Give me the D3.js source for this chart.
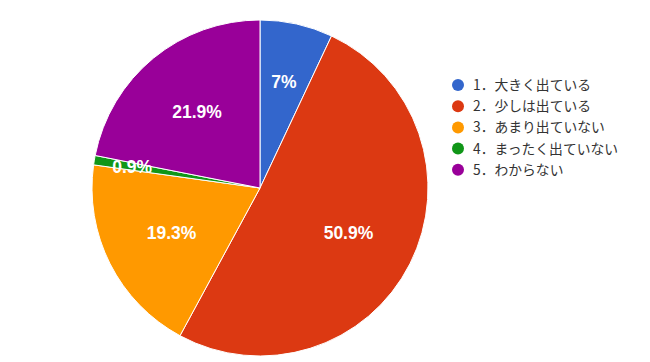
<!DOCTYPE html>
<html>
<head>
<meta charset="utf-8">
<script src="https://cdn.jsdelivr.net/npm/d3@7"></script>
<style>
  body { margin: 0; background: #fff; }
  text { font-family: Arial, "Liberation Sans", sans-serif; }
  .legend text { font-family: "Noto Sans CJK JP", sans-serif; }
</style>
</head>
<body>
<div id="chart"></div>
<script>
var categories = ["1．大きく出ている", "2．少しは出ている", "3．あまり出ていない", "4．まったく出ていない", "5．わからない"];
var values = [7, 50.9, 19.3, 0.9, 21.9];
var labels = ["7%", "50.9%", "19.3%", "0.9%", "21.9%"];
var colors = ["#3366cc", "#dc3912", "#ff9900", "#109618", "#990099"];

var width = 650, height = 362;
var cx = 260, cy = 188, radius = 168;

var svg = d3.select("#chart")
    .append("svg")
    .attr("width", width)
    .attr("height", height);

var datum = categories.map(function(c, i) {
    return { name: c, value: values[i], label: labels[i], color: colors[i] };
});

var pie = d3.pie()
    .sort(null)
    .value(function(d) { return d.value; });

var arc = d3.arc()
    .innerRadius(0)
    .outerRadius(radius);

var g = svg.append("g")
    .attr("transform", "translate(" + cx + "," + cy + ")");

var arcs = pie(datum);

g.selectAll("path")
    .data(arcs)
    .enter()
    .append("path")
    .attr("d", arc)
    .attr("fill", function(d) { return d.data.color; })
    .attr("stroke", "#fff")
    .attr("stroke-width", 1);

/* small slices get their label pushed outward */
g.selectAll("text.pct")
    .data(arcs)
    .enter()
    .append("text")
    .attr("class", "pct")
    .attr("transform", function(d) {
        var p = d.data.value / 100;
        var r = radius * (0.59 + Math.max(0, 0.1 - p) * 2);
        var a = (d.startAngle + d.endAngle) / 2;
        return "translate(" + (Math.sin(a) * r) + "," + (-Math.cos(a) * r) + ")";
    })
    .attr("text-anchor", "middle")
    .attr("dy", "0.36em")
    .attr("fill", "#fff")
    .attr("font-size", "17.5px")
    .attr("font-weight", "bold")
    .text(function(d) { return d.data.label; });

var legend = svg.append("g")
    .attr("class", "legend")
    .attr("transform", "translate(458,85)");

var row = legend.selectAll("g")
    .data(datum)
    .enter()
    .append("g")
    .attr("transform", function(d, i) { return "translate(0," + (i * 21.2) + ")"; });

row.append("circle")
    .attr("r", 6)
    .attr("fill", function(d) { return d.color; });

row.append("text")
    .attr("x", 15)
    .attr("dy", "0.36em")
    .attr("font-size", "13.8px")
    .attr("fill", "#333")
    .text(function(d) { return d.name; });
</script>
</body>
</html>
